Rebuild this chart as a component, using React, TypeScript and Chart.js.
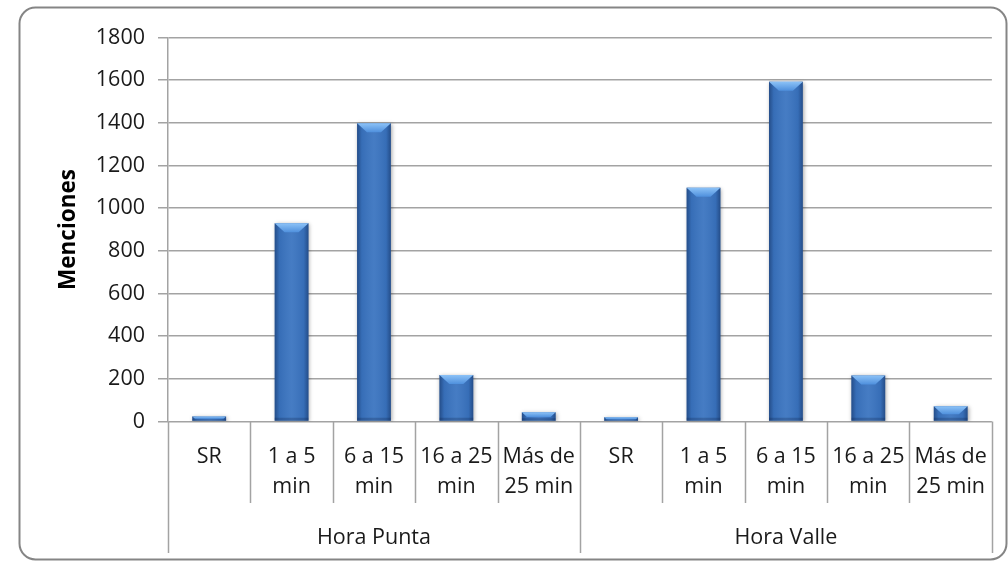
import React, { useEffect, useRef } from "react";
import { Chart, registerables } from "chart.js";

Chart.register(...registerables);

// Data: mentions of waiting time by period of the day
const groups = ["Hora Punta", "Hora Valle"];
const intervals: string[][] = [
  ["SR"],
  ["1 a 5", "min"],
  ["6 a 15", "min"],
  ["16 a 25", "min"],
  ["Más de", "25 min"],
];
const puntaValues = [24, 929, 1398, 218, 43];
const valleValues = [20, 1096, 1593, 216, 71];
const yTicks = { min: 0, max: 1800, step: 200 };
const yTitle = "Menciones";

const FONT = "'Open Sans', sans-serif";
const TEXT = "#1a1a1a";
const GRID = "#a3a3a3";
const BAR = "#3a74c0";

// Rounded frame around the whole chart
const framePlugin = {
  id: "frame",
  beforeDraw(chart: any) {
    const { ctx, width, height } = chart;
    ctx.save();
    ctx.fillStyle = "#ffffff";
    ctx.fillRect(0, 0, width, height);
    ctx.strokeStyle = "#858585";
    ctx.lineWidth = 2;
    ctx.beginPath();
    ctx.roundRect(19.5, 7.5, 987, 552, 16);
    ctx.stroke();
    ctx.restore();
  },
};

// Second level of the category axis: separators and group names
const groupAxisPlugin = {
  id: "groupAxis",
  afterDraw(chart: any) {
    const { ctx, chartArea } = chart;
    const xs = chart.scales.x;
    const n = xs.ticks.length;
    const per = intervals.length;
    const w = (chartArea.right - chartArea.left) / n;
    const edge = (k: number) => xs.getPixelForValue(0) - w / 2 + k * w;
    ctx.save();
    ctx.strokeStyle = GRID;
    ctx.lineWidth = 1.5;
    for (let k = 0; k <= n; k++) {
      const px = Math.round(edge(k)) + 0.5;
      const end = k % per === 0 ? chartArea.bottom + 131.5 : chartArea.bottom + 81.5;
      ctx.beginPath();
      ctx.moveTo(px, chartArea.bottom);
      ctx.lineTo(px, end);
      ctx.stroke();
    }
    ctx.fillStyle = TEXT;
    ctx.font = `21.5px ${FONT}`;
    ctx.textAlign = "center";
    ctx.textBaseline = "middle";
    groups.forEach((g, i) => {
      const cx = (edge(i * per) + edge((i + 1) * per)) / 2;
      ctx.fillText(g, cx, chartArea.bottom + 116);
    });
    ctx.restore();
  },
};

// Bevelled look of the columns, drawn over the library's bar elements
const bevelPlugin = {
  id: "bevel",
  beforeDatasetsDraw(chart: any) {
    const ctx = chart.ctx;
    ctx.save();
    ctx.shadowColor = "rgba(0,0,0,0.35)";
    ctx.shadowBlur = 4;
    ctx.shadowOffsetX = 1;
    ctx.shadowOffsetY = 1;
  },
  afterDatasetsDraw(chart: any) {
    const ctx = chart.ctx;
    ctx.restore();
    const meta = chart.getDatasetMeta(0);
    ctx.save();
    meta.data.forEach((el: any) => {
      const { x, y, width, base } = el.getProps(["x", "y", "width", "base"], true);
      const l = x - width / 2;
      const r = x + width / 2;
      const h = base - y;
      if (h <= 0) return;
      // side shading
      const g = ctx.createLinearGradient(l, 0, r, 0);
      g.addColorStop(0, "rgba(10,30,70,0.45)");
      g.addColorStop(0.14, "rgba(10,30,70,0.08)");
      g.addColorStop(0.5, "rgba(255,255,255,0.06)");
      g.addColorStop(0.86, "rgba(10,30,70,0.08)");
      g.addColorStop(1, "rgba(10,30,70,0.45)");
      ctx.fillStyle = g;
      ctx.fillRect(l, y, width, h);
      // bottom edge
      const bb = Math.min(3, h * 0.3);
      ctx.fillStyle = "rgba(10,30,70,0.25)";
      ctx.fillRect(l, base - bb, width, bb);
      // top bevel face
      const d = Math.min(9, h * 0.55);
      const tg = ctx.createLinearGradient(0, y, 0, y + d);
      tg.addColorStop(0, "#8cc2f7");
      tg.addColorStop(1, "#4f90dd");
      ctx.fillStyle = tg;
      ctx.beginPath();
      ctx.moveTo(l, y);
      ctx.lineTo(r, y);
      ctx.lineTo(r - d * 1.1, y + d);
      ctx.lineTo(l + d * 1.1, y + d);
      ctx.closePath();
      ctx.fill();
    });
    ctx.restore();
  },
};

export default function App() {
  const ref = useRef<HTMLCanvasElement | null>(null);

  useEffect(() => {
    let chart: Chart | null = null;
    let cancelled = false;
    const labels = groups.flatMap(() => intervals);
    const values = [...puntaValues, ...valleValues];

    const build = () => {
      if (cancelled || !ref.current) return;
      chart = new Chart(ref.current, {
        type: "bar",
        data: {
          labels,
          datasets: [
            {
              data: values,
              backgroundColor: BAR,
              borderWidth: 0,
              categoryPercentage: 1,
              barPercentage: 0.41,
            },
          ],
        },
        options: {
          responsive: false,
          animation: false,
          layout: { padding: { left: 56, top: 37.5, right: 13, bottom: 0 } },
          plugins: { legend: { display: false }, tooltip: { enabled: false } },
          scales: {
            x: {
              grid: { display: false, drawTicks: false },
              border: { display: false },
              ticks: {
                color: TEXT,
                font: { family: FONT, size: 21.5, lineHeight: 1.4 },
                padding: 20.5,
                maxRotation: 0,
                autoSkip: false,
              },
              afterFit: (s: any) => {
                s.height = 139.5;
              },
            },
            y: {
              min: yTicks.min,
              max: yTicks.max,
              grid: { color: GRID, lineWidth: 1.5, tickLength: 10, drawTicks: true },
              border: { display: true, color: GRID, width: 1.5 },
              ticks: {
                stepSize: yTicks.step,
                color: TEXT,
                font: { family: FONT, size: 21.5 },
                padding: 13,
                callback: (v: any) => String(v),
              },
              title: {
                display: true,
                text: yTitle,
                color: "#000000",
                font: { family: FONT, size: 22.5, weight: "bold", lineHeight: 1.1 },
                padding: 0,
              },
              afterFit: (s: any) => {
                s.width = 112;
              },
            },
          },
        },
        plugins: [framePlugin, bevelPlugin, groupAxisPlugin],
      });
    };

    Promise.all([
      document.fonts.load(`21px ${FONT}`),
      document.fonts.load(`bold 21px ${FONT}`),
    ])
      .catch(() => undefined)
      .then(build);

    return () => {
      cancelled = true;
      if (chart) chart.destroy();
    };
  }, []);

  return (
    <div style={{ position: "fixed", left: 0, top: 0, width: 1008, height: 561, background: "#fff" }}>
      <canvas ref={ref} width={1008} height={561} style={{ display: "block" }} />
    </div>
  );
}
